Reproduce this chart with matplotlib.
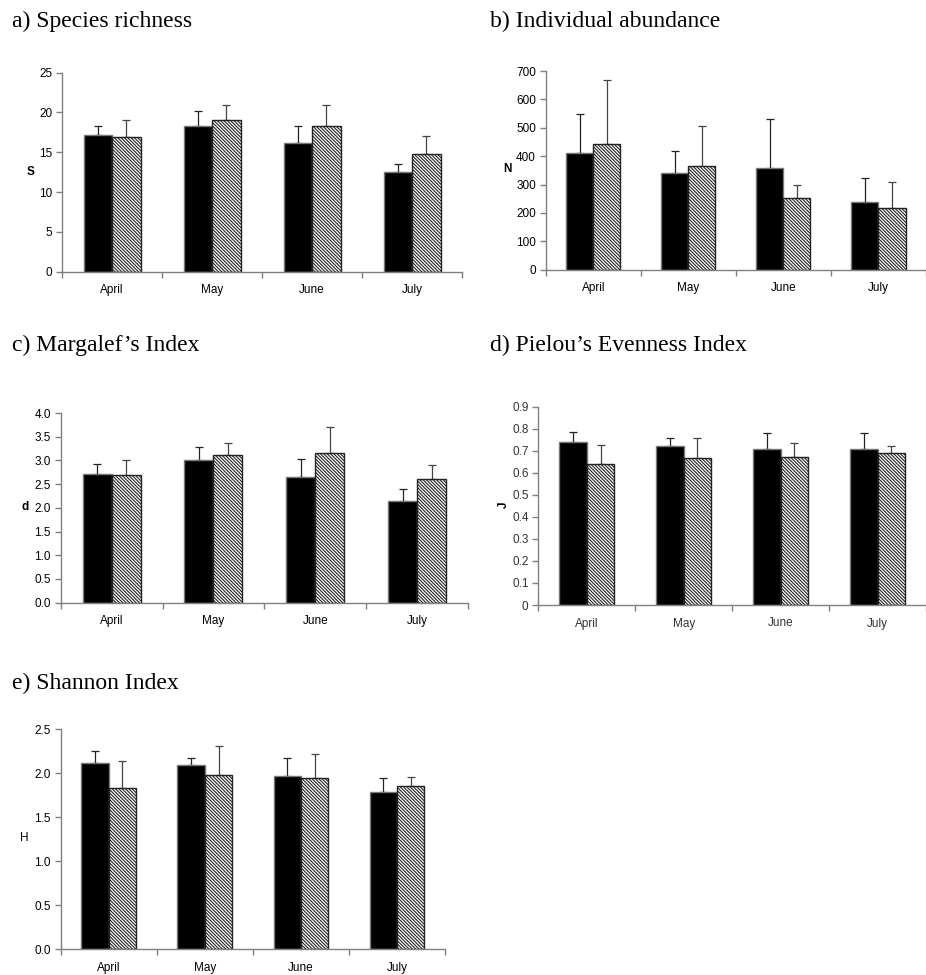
import numpy as np
import matplotlib
matplotlib.use('Agg')
import matplotlib.pyplot as plt

plt.rcParams['font.family'] = ['Liberation Sans', 'DejaVu Sans']
plt.rcParams['hatch.linewidth'] = 0.8

W, H = 926, 975
months = ['April', 'May', 'June', 'July']

# means and upper error bars, black bars (first) and hatched bars (second)
s_black = [17.2, 18.3, 16.2, 12.5]
s_black_err = [1.1, 1.9, 2.1, 1.0]
s_hatch = [16.9, 19.1, 18.3, 14.8]
s_hatch_err = [2.2, 1.9, 2.7, 2.3]

n_black = [411, 342, 357, 240]
n_black_err = [138, 77, 175, 83]
n_hatch = [442, 366, 254, 216]
n_hatch_err = [225, 141, 46, 92]

d_black = [2.72, 3.00, 2.64, 2.14]
d_black_err = [0.20, 0.28, 0.39, 0.25]
d_hatch = [2.69, 3.11, 3.15, 2.60]
d_hatch_err = [0.31, 0.25, 0.56, 0.30]

j_black = [0.74, 0.72, 0.71, 0.71]
j_black_err = [0.043, 0.038, 0.072, 0.072]
j_hatch = [0.64, 0.665, 0.67, 0.69]
j_hatch_err = [0.084, 0.095, 0.065, 0.03]

h_black = [2.12, 2.09, 1.97, 1.79]
h_black_err = [0.13, 0.08, 0.20, 0.16]
h_hatch = [1.83, 1.98, 1.95, 1.86]
h_hatch_err = [0.31, 0.33, 0.27, 0.10]

s_ticks = [0, 5, 10, 15, 20, 25]
n_ticks = [0, 100, 200, 300, 400, 500, 600, 700]
d_ticks = [0.0, 0.5, 1.0, 1.5, 2.0, 2.5, 3.0, 3.5, 4.0]
j_ticks = [0, 0.1, 0.2, 0.3, 0.4, 0.5, 0.6, 0.7, 0.8, 0.9]
h_ticks = [0.0, 0.5, 1.0, 1.5, 2.0, 2.5]

fig = plt.figure(figsize=(W / 100, H / 100), dpi=100)

def px_axes(left, top, right, bottom):
	return fig.add_axes([left / W, 1 - bottom / H, (right - left) / W, (bottom - top) / H])

def panel(box, black, black_err, hatch, hatch_err, yticks, ylabels, xmax, title, tpos,
		  ylab, lpos, lrot=0, lbold=True, tcolor='black'):
	ax = px_axes(*box)
	x = np.arange(len(months))
	w = 0.285
	ax.bar(x - w / 2, black, w, color='black', edgecolor='#777777', lw=1, zorder=2)
	ax.bar(x + w / 2, hatch, w, color='white', edgecolor='#222222', hatch='\\' * 10, lw=1, zorder=2)
	ax.errorbar(x - w / 2, black, yerr=[np.zeros(len(x)), black_err], fmt='none',
				ecolor='#222222', elinewidth=0.9, capsize=2.6, capthick=0.9, zorder=1)
	ax.errorbar(x + w / 2, hatch, yerr=[np.zeros(len(x)), hatch_err], fmt='none',
				ecolor='#444444', elinewidth=0.9, capsize=2.6, capthick=0.9, zorder=1)
	ax.set_xlim(-0.5, xmax)
	ax.set_ylim(yticks[0], yticks[-1])
	ax.set_yticks(yticks)
	ax.set_yticklabels(ylabels, fontsize=8.5, color=tcolor)
	ax.set_xticks(x)
	ax.set_xticklabels(months, fontsize=8.5, color=tcolor)
	ax.set_xticks(np.arange(-0.5, len(months) + 0.5, 1), minor=True)
	ax.tick_params(axis='x', which='major', length=0, pad=9)
	ax.tick_params(axis='x', which='minor', length=4, color='#808080', width=1)
	ax.tick_params(axis='y', length=4, color='#808080', width=1, pad=3)
	for side in ['top', 'right']:
		ax.spines[side].set_visible(False)
	for side in ['left', 'bottom']:
		ax.spines[side].set_color('#808080')
		ax.spines[side].set_linewidth(1)
	ax.spines['bottom'].set_zorder(3)
	fig.text(tpos[0] / W, 1 - tpos[1] / H, title, family='Liberation Serif',
			 fontsize=17, va='baseline', ha='left')
	fig.text(lpos[0] / W, 1 - lpos[1] / H, ylab, fontsize=8.5, ha='center', va='center',
			 rotation=lrot, fontweight='bold' if lbold else 'normal')
	return ax

panel((62, 72.7, 462, 271.7), s_black, s_black_err, s_hatch, s_hatch_err,
	  s_ticks, [str(t) for t in s_ticks], 3.5, 'a) Species richness', (12, 27),
	  'S', (30.5, 172))
panel((545.7, 71, 926, 269.7), n_black, n_black_err, n_hatch, n_hatch_err,
	  n_ticks, [str(t) for t in n_ticks], 3.4, 'b) Individual abundance', (490, 27),
	  'N', (507.5, 169))
panel((60.7, 413, 468, 602.7), d_black, d_black_err, d_hatch, d_hatch_err,
	  d_ticks, ['%.1f' % t for t in d_ticks], 3.5, "c) Margalef\u2019s Index", (12, 351),
	  'd', (25, 507))
panel((538.3, 406.7, 926, 605), j_black, j_black_err, j_hatch, j_hatch_err,
	  j_ticks, ['0'] + ['%.1f' % t for t in j_ticks[1:]], 3.47,
	  "d) Pielou\u2019s Evenness Index", (490, 351), 'J', (504, 505), lrot=90,
	  tcolor='#333333')
panel((60.7, 729.3, 445, 949.3), h_black, h_black_err, h_hatch, h_hatch_err,
	  h_ticks, ['%.1f' % t for t in h_ticks], 3.5, 'e) Shannon Index', (12, 689),
	  'H', (24.5, 838), lbold=False)

fig.savefig('out.png', dpi=100)
